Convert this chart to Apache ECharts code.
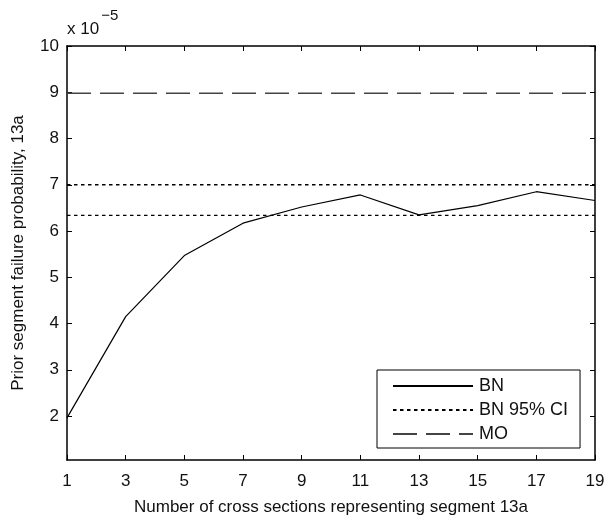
<!DOCTYPE html>
<html>
<head>
<meta charset="utf-8">
<script src="https://cdn.jsdelivr.net/npm/echarts@6/dist/echarts.min.js"></script>
<style>
  html, body { margin: 0; padding: 0; background: #fff; }
  #chart { width: 604px; height: 516px; }
</style>
</head>
<body>
<div id="chart"></div>
<script>
// Number of cross sections and the BN estimate (units of 1e-5)
const sections = [1, 3, 5, 7, 9, 11, 13, 15, 17, 19];
const bnValues = [1.96, 4.15, 5.47, 6.17, 6.52, 6.78, 6.35, 6.55, 6.85, 6.66];
// 95% confidence bounds of the BN estimate and the MO value (units of 1e-5)
const ciUpper = 7.0;
const ciLower = 6.34;
const moValue = 8.98;
// Tick labels
const xTicks = [1, 3, 5, 7, 9, 11, 13, 15, 17, 19];
const yTicks = [2, 3, 4, 5, 6, 7, 8, 9, 10];

const FONT = 'Liberation Sans, Arial, Helvetica, sans-serif';
const xMin = 1, xMax = 19, yMin = 1.05, yMax = 10;

const span = v => [[xMin, v], [xMax, v]];

const chart = echarts.init(document.getElementById('chart'), null, { renderer: 'canvas' });

const baseX = {
  type: 'value', min: xMin, max: xMax,
  axisLine: { show: true, onZero: false, lineStyle: { color: '#000', width: 1.5 } },
  axisTick: { show: true, inside: true, length: 5, customValues: xTicks, lineStyle: { color: '#000', width: 1 } },
  splitLine: { show: false }
};
const baseY = {
  type: 'value', min: yMin, max: yMax,
  axisLine: { show: true, onZero: false, lineStyle: { color: '#000', width: 1.5 } },
  axisTick: { show: true, inside: true, length: 5, customValues: yTicks, lineStyle: { color: '#000', width: 1 } },
  splitLine: { show: false }
};

chart.setOption({
  animation: false,
  backgroundColor: '#fff',
  grid: { left: 67, right: 9, top: 46, bottom: 56, containLabel: false, outerBoundsMode: 'none' },
  xAxis: [
    Object.assign({}, baseX, {
      position: 'bottom',
      name: 'Number of cross sections representing segment 13a',
      nameLocation: 'middle', nameGap: 39,
      nameTextStyle: { fontFamily: FONT, fontSize: 17, color: '#111' },
      axisLabel: { show: true, customValues: xTicks, margin: 13, fontFamily: FONT, fontSize: 17, color: '#111' }
    }),
    Object.assign({}, baseX, { position: 'top', axisLabel: { show: false } })
  ],
  yAxis: [
    Object.assign({}, baseY, {
      position: 'left',
      name: 'Prior segment failure probability, 13a',
      nameLocation: 'middle', nameGap: 40,
      nameTextStyle: { fontFamily: FONT, fontSize: 17, color: '#111' },
      axisLabel: { show: true, customValues: yTicks, margin: 8, fontFamily: FONT, fontSize: 17, color: '#111' }
    }),
    Object.assign({}, baseY, { position: 'right', axisLabel: { show: false } })
  ],
  legend: {
    orient: 'vertical',
    left: 377, top: 370,
    padding: [7, 12, 5, 15],
    itemWidth: 80, itemHeight: 14, itemGap: 6,
    borderColor: '#000', borderWidth: 1,
    backgroundColor: '#fff',
    itemStyle: { opacity: 0 },
    textStyle: { fontFamily: FONT, fontSize: 18, color: '#111', padding: [0, 0, 0, 1] },
    data: ['BN', 'BN 95% CI', 'MO']
  },
  graphic: [
    {
      type: 'text', left: 67, top: 8,
      style: {
        text: '{b|x 10}{s|−5}',
        rich: {
          b: { fontFamily: FONT, fontSize: 17, fill: '#111', verticalAlign: 'bottom', lineHeight: 30 },
          s: { fontFamily: FONT, fontSize: 15, fill: '#111', verticalAlign: 'top', lineHeight: 30, padding: [0, 0, 12, 2] }
        }
      }
    }
  ],
  series: [
    {
      name: 'BN', type: 'line', xAxisIndex: 0, yAxisIndex: 0,
      data: sections.map((s, i) => [s, bnValues[i]]),
      showSymbol: false, symbol: 'none',
      lineStyle: { color: '#000', width: 1.2, type: 'solid' },
      itemStyle: { color: '#000' }
    },
    {
      name: 'BN 95% CI', type: 'line', xAxisIndex: 0, yAxisIndex: 0,
      data: span(ciUpper), showSymbol: false, symbol: 'none',
      lineStyle: { color: '#000', width: 1.3, type: [3.5, 3.5] },
      itemStyle: { color: '#000' }
    },
    {
      name: 'BN 95% CI', type: 'line', xAxisIndex: 0, yAxisIndex: 0,
      data: span(ciLower), showSymbol: false, symbol: 'none',
      lineStyle: { color: '#000', width: 1.3, type: [3.5, 3.5] },
      itemStyle: { color: '#000' }
    },
    {
      name: 'MO', type: 'line', xAxisIndex: 0, yAxisIndex: 0,
      data: span(moValue), showSymbol: false, symbol: 'none',
      lineStyle: { color: '#444', width: 1.5, type: [24, 9] },
      itemStyle: { color: '#444' }
    }
  ]
});
</script>
</body>
</html>
